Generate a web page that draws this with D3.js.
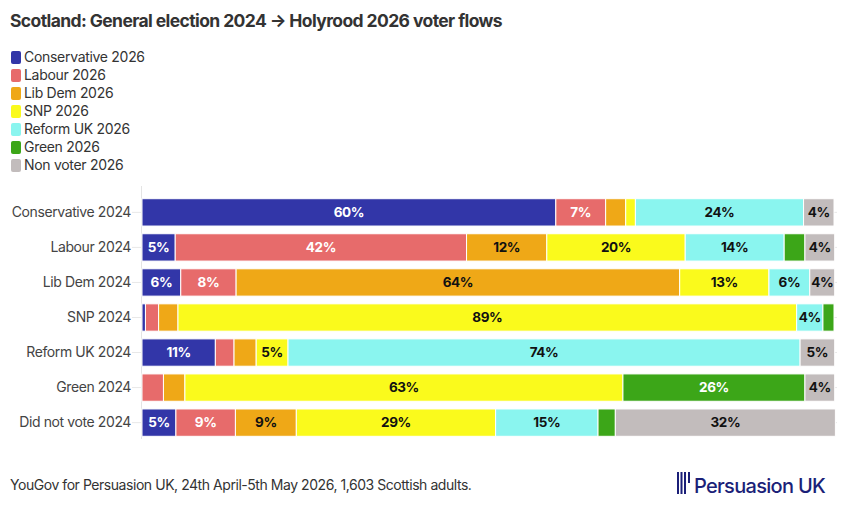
<!DOCTYPE html>
<html lang="en">
<head>
    <meta charset="UTF-8">
    <title>Scotland voter flows</title>
    <script src="https://d3js.org/d3.v7.min.js"></script>
    <style>
        body {
            margin: 0;
            background: #fff;
            font-family: Inter, "Noto Sans", Arial, sans-serif;
        }
    </style>
</head>
<body>
    <svg id="chart"></svg>

    <script>
        // 2024 vote (rows) and 2026 vote (segments)
        const rows = ["Conservative 2024", "Labour 2024", "Lib Dem 2024", "SNP 2024", "Reform UK 2024", "Green 2024", "Did not vote 2024"];
        const parties = ["Conservative 2026", "Labour 2026", "Lib Dem 2026", "SNP 2026", "Reform UK 2026", "Green 2026", "Non voter 2026"];
        const colors = ["#3236a8", "#e76b6b", "#efa817", "#fafa1c", "#8af5ef", "#3ca618", "#c2bcbc"];
        const labelColors = ["#fff", "#fff", "#111", "#111", "#111", "#fff", "#111"];

        // share of each 2024 group going to each 2026 option, in the order of parties
        const conservative = [59.8, 7.2, 2.9, 1.4, 24.3, 0, 4.4];
        const labour = [4.8, 42.1, 11.6, 20.0, 14.3, 3.0, 4.3];
        const libDem = [5.6, 8.0, 64.1, 12.9, 5.9, 0, 3.6];
        const snp = [0.5, 1.9, 2.8, 89.4, 3.8, 1.6, 0];
        const reform = [10.6, 2.7, 3.2, 4.6, 74.0, 0, 5.0];
        const green = [0, 3.1, 3.1, 63.3, 0, 26.3, 4.3];
        const didNotVote = [4.9, 8.6, 8.8, 28.8, 14.8, 2.5, 31.8];

        const values = [conservative, labour, libDem, snp, reform, green, didNotVote];

        const W = 848, H = 525;
        const margin = { top: 198, right: 14, bottom: 88, left: 142 };
        const width = W - margin.left - margin.right;
        const height = H - margin.top - margin.bottom;

        const svg = d3.select("#chart")
            .attr("width", W)
            .attr("height", H);

        // title
        svg.append("text")
            .attr("x", 10)
            .attr("y", 27)
            .attr("font-size", "17.5px")
            .attr("font-weight", 700)
            .attr("fill", "#333")
            .attr("letter-spacing", "-0.6px")
            .text("Scotland: General election 2024 → Holyrood 2026 voter flows");

        // legend
        const legend = svg.append("g")
            .selectAll("g")
            .data(parties)
            .enter().append("g")
            .attr("transform", (d, i) => "translate(11," + (51 + i * 18) + ")");

        legend.append("rect")
            .attr("width", 10)
            .attr("height", 13)
            .attr("rx", 2)
            .attr("fill", (d, i) => colors[i]);

        legend.append("text")
            .attr("x", 13)
            .attr("y", 11)
            .attr("font-size", "14px")
            .attr("letter-spacing", "-0.3px")
            .attr("fill", "#333")
            .text(d => d);

        // build table for the stack
        const table = rows.map((r, i) => {
            const o = { row: r };
            parties.forEach((p, j) => o[p] = values[i][j]);
            return o;
        });

        const series = d3.stack().keys(parties)(table);

        const x = d3.scaleLinear()
            .domain([0, 100])
            .range([0, width]);

        const y = d3.scaleBand()
            .domain(rows)
            .range([0, height])
            .paddingInner(0.22)
            .paddingOuter(0.02);

        const g = svg.append("g")
            .attr("transform", "translate(" + margin.left + "," + margin.top + ")");

        // faint row grid lines
        g.append("g")
            .selectAll("line")
            .data(rows)
            .enter().append("line")
            .attr("x1", -10)
            .attr("x2", width + 3)
            .attr("y1", d => y(d) + y.bandwidth() / 2)
            .attr("y2", d => y(d) + y.bandwidth() / 2)
            .attr("stroke", "#e8e8e8");

        // y axis line
        g.append("line")
            .attr("x1", -0.5)
            .attr("x2", -0.5)
            .attr("y1", -12)
            .attr("y2", height + 2)
            .attr("stroke", "#e4e4e4");

        // row labels
        const yAxis = g.append("g")
            .call(d3.axisLeft(y).tickSize(0).tickPadding(11));
        yAxis.select(".domain").remove();
        yAxis.selectAll("text")
            .attr("font-family", "Inter, 'Noto Sans', Arial, sans-serif")
            .attr("font-size", "14px")
            .attr("letter-spacing", "-0.4px")
            .attr("fill", "#444");

        // bars
        const layer = g.append("g")
            .selectAll("g")
            .data(series)
            .enter().append("g")
            .attr("fill", (d, i) => colors[i]);

        layer.selectAll("rect")
            .data(d => d.map(v => Object.assign(v, { key: d.key })))
            .enter().append("rect")
            .filter(d => d[1] - d[0] > 0)
            .attr("x", d => x(d[0]))
            .attr("y", d => y(d.data.row))
            .attr("width", d => x(d[1]) - x(d[0]))
            .attr("height", y.bandwidth())
            .attr("stroke", "#fff")
            .attr("stroke-width", 1);

        // value labels
        layer.selectAll("text")
            .data((d, i) => d.map(v => ({ v, i })))
            .enter().append("text")
            .filter(d => Math.round(d.v[1] - d.v[0]) >= 4)
            .attr("x", d => x((d.v[0] + d.v[1]) / 2))
            .attr("y", d => y(d.v.data.row) + y.bandwidth() / 2)
            .attr("dy", "0.36em")
            .attr("text-anchor", "middle")
            .attr("font-size", "13.5px")
            .attr("font-weight", 700)
            .attr("letter-spacing", "-0.4px")
            .attr("fill", d => labelColors[d.i])
            .text(d => Math.round(d.v[1] - d.v[0]) + "%");

        // source note
        svg.append("text")
            .attr("x", 10)
            .attr("y", 490)
            .attr("font-size", "14px")
            .attr("fill", "#333")
            .attr("letter-spacing", "-0.45px")
            .text("YouGov for Persuasion UK, 24th April-5th May 2026, 1,603 Scottish adults.");

        // logo
        const logo = svg.append("g").attr("fill", "#1b1f78");
        [677, 680.5, 684, 688].forEach((lx, i) => {
            logo.append("rect")
                .attr("x", lx)
                .attr("y", 472)
                .attr("width", 2)
                .attr("height", i < 3 ? 22 : 11);
        });
        logo.append("text")
            .attr("x", 694)
            .attr("y", 493)
            .attr("font-size", "20px")
            .attr("font-weight", 500)
            .attr("letter-spacing", "-0.7px")
            .text("Persuasion UK");
    </script>
</body>
</html>
